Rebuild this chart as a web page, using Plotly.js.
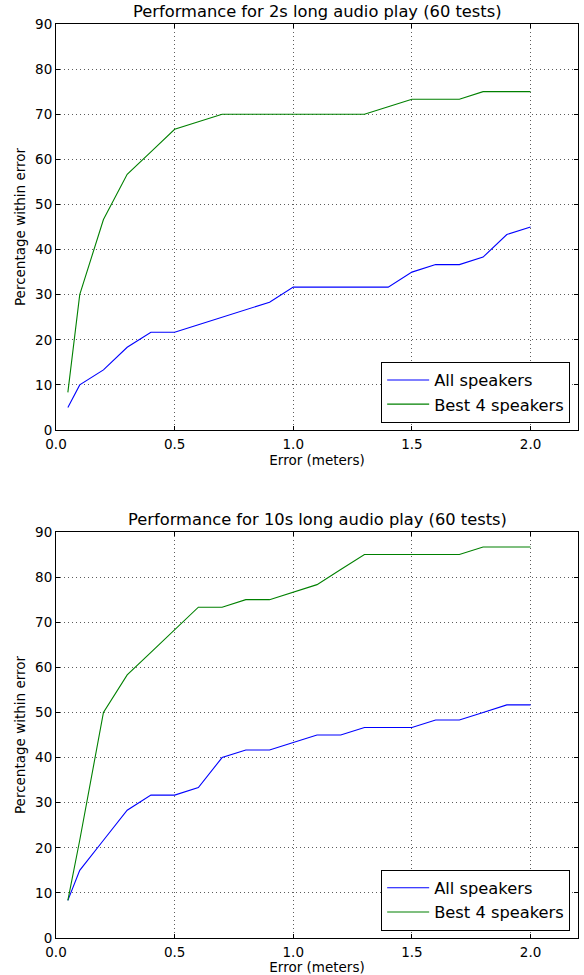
<!DOCTYPE html>
<html>
<head>
<meta charset="utf-8">
<script src="https://cdn.plot.ly/plotly-3.0.1.min.js"></script>
<style>html,body{margin:0;padding:0;background:#fff;}#chart{width:584px;height:975px;}</style>
</head>
<body>
<div id="chart"></div>
<script>
const errorMeters = [0.05,0.1,0.2,0.3,0.4,0.5,0.6,0.7,0.8,0.9,1.0,1.1,1.2,1.3,1.4,1.5,1.6,1.7,1.8,1.9,2.0];
const all2s  = [5.00,10.00,13.33,18.33,21.67,21.67,23.33,25.00,26.67,28.33,31.67,31.67,31.67,31.67,31.67,35.00,36.67,36.67,38.33,43.33,45.00];
const best2s = [8.33,30.00,46.67,56.67,61.67,66.67,68.33,70.00,70.00,70.00,70.00,70.00,70.00,70.00,71.67,73.33,73.33,73.33,75.00,75.00,75.00];
const all10s  = [8.33,15.00,21.67,28.33,31.67,31.67,33.33,40.00,41.67,41.67,43.33,45.00,45.00,46.67,46.67,46.67,48.33,48.33,50.00,51.67,51.67];
const best10s = [8.33,21.67,50.00,58.33,63.33,68.33,73.33,73.33,75.00,75.00,76.67,78.33,81.67,85.00,85.00,85.00,85.00,85.00,86.67,86.67,86.67];
const seriesNames = ["All speakers","Best 4 speakers"];
const titles = ["Performance for 2s long audio play (60 tests)","Performance for 10s long audio play (60 tests)"];
const xTicks = [0.0,0.5,1.0,1.5,2.0];
const yTicks = [0,10,20,30,40,50,60,70,80,90];

const BLUE = "#0000ff", GREEN = "#008000";
const FAM = "DejaVu Sans, sans-serif";
const font = {family:FAM, size:13.5, color:"#000"};
const bigFont = {family:FAM, size:16.3, color:"#000"};

function tr(y, name, color, xa, ya, legend){
  return {x:errorMeters, y:y, name:name, type:"scatter", mode:"lines",
    line:{color:color, width:1.1}, xaxis:xa, yaxis:ya, legend:legend, showlegend:true};
}
const data = [
  tr(all2s, seriesNames[0], BLUE, "x", "y", "legend"),
  tr(best2s, seriesNames[1], GREEN, "x", "y", "legend"),
  tr(all10s, seriesNames[0], BLUE, "x2", "y2", "legend2"),
  tr(best10s, seriesNames[1], GREEN, "x2", "y2", "legend2")
];

const common = {showline:true, mirror:"ticks", linecolor:"#000", linewidth:1,
  ticks:"inside", ticklen:4, tickcolor:"#000",
  showgrid:true, gridcolor:"#333", griddash:"1px,3px", gridwidth:0.8,
  zeroline:false, tickfont:font};
function xax(anchor){
  return Object.assign({anchor:anchor, range:[0,2.2], tickvals:xTicks, tickformat:".1f",
    ticklabelstandoff:2,
    title:{text:"Error (meters)", font:font, standoff:0}}, common);
}
function yax(anchor, domain){
  return Object.assign({anchor:anchor, domain:domain, range:[0,90], tickvals:yTicks,
    title:{text:"Percentage within error", font:font, standoff:6}}, common);
}
const legendStyle = {xanchor:"right", yanchor:"bottom", bgcolor:"#fff",
  bordercolor:"#000", borderwidth:1, font:bigFont, tracegroupgap:0, itemwidth:42};

const layout = {
  width:584, height:975,
  margin:{l:56, r:6, t:24, b:37},
  paper_bgcolor:"#fff", plot_bgcolor:"#fff",
  font:font,
  xaxis:xax("y"),
  yaxis:yax("x",[0.5558,1]),
  xaxis2:xax("y2"),
  yaxis2:yax("x2",[0,0.4442]),
  legend:Object.assign({x:0.985, y:0.5636}, legendStyle),
  legend2:Object.assign({x:0.985, y:0.008}, legendStyle),
  annotations:[
    {text:titles[0], xref:"paper", yref:"paper", x:0.5, y:1, yanchor:"bottom", yshift:1, showarrow:false, font:bigFont},
    {text:titles[1], xref:"paper", yref:"paper", x:0.5, y:0.4442, yanchor:"bottom", yshift:1, showarrow:false, font:bigFont}
  ]
};
Plotly.newPlot("chart", data, layout, {staticPlot:true, displayModeBar:false});
</script>
</body>
</html>
